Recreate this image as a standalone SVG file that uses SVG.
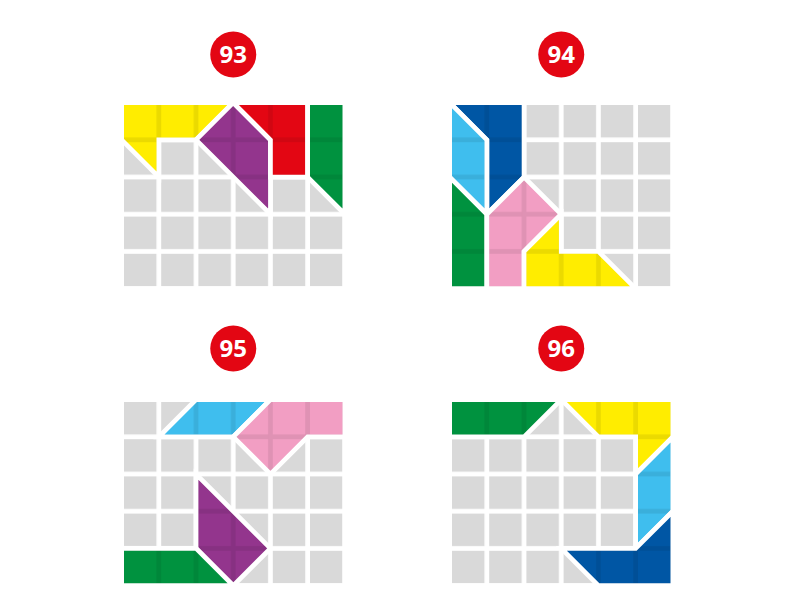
<svg xmlns="http://www.w3.org/2000/svg" width="794" height="614" viewBox="0 0 794 614">
<style>
.badge{fill:#e30613}
.num{fill:#ffffff;font-family:"Open Sans","Liberation Sans",Arial,sans-serif;font-weight:700;font-size:24px;text-anchor:middle}
.ov{fill:url(#gap);stroke:#ffffff;stroke-width:4.7;stroke-linejoin:miter}
.y{fill:#ffed00}.r{fill:#e30613}.pu{fill:#93358d}.g{fill:#00923f}
.lb{fill:#3fbeee}.db{fill:#0056a4}.pk{fill:#f29ec3}
</style>
<defs>
<pattern id="cells" x="0" y="0" width="37.2" height="37.2" patternUnits="userSpaceOnUse">
<rect x="0" y="0" width="32.5" height="32.5" fill="#d9d9d9"/>
</pattern>
<pattern id="gap" x="0" y="0" width="37.2" height="37.2" patternUnits="userSpaceOnUse">
<rect x="32.5" y="0" width="4.7" height="37.2" fill="#000000" fill-opacity="0.08"/>
<rect x="0" y="32.5" width="32.5" height="4.7" fill="#000000" fill-opacity="0.08"/>
</pattern>
<rect id="grid" x="0" y="0" width="218.5" height="181.3" fill="url(#cells)"/>
</defs>
<rect x="0" y="0" width="794" height="614" fill="#ffffff"/>

<g id="puzzle93">
<circle class="badge" cx="233.25" cy="54.5" r="23"/>
<text class="num" x="233.25" y="63">93</text>
<g transform="translate(124,105)">
<use href="#grid"/>
<polygon class="y" points="-2.35,-2.35 109.25,-2.35 72.05,34.85 34.85,34.85 34.85,72.05 -2.35,34.85"/>
<polygon class="ov" points="-2.35,-2.35 109.25,-2.35 72.05,34.85 34.85,34.85 34.85,72.05 -2.35,34.85"/>
<polygon class="pu" points="109.25,-2.35 146.45,34.85 146.45,109.25 72.05,34.85"/>
<polygon class="ov" points="109.25,-2.35 146.45,34.85 146.45,109.25 72.05,34.85"/>
<polygon class="r" points="109.25,-2.35 183.65,-2.35 183.65,72.05 146.45,72.05 146.45,34.85"/>
<polygon class="ov" points="109.25,-2.35 183.65,-2.35 183.65,72.05 146.45,72.05 146.45,34.85"/>
<polygon class="g" points="183.65,-2.35 220.85,-2.35 220.85,109.25 183.65,72.05"/>
<polygon class="ov" points="183.65,-2.35 220.85,-2.35 220.85,109.25 183.65,72.05"/>
</g>
</g>

<g id="puzzle94">
<circle class="badge" cx="561.25" cy="54.5" r="23"/>
<text class="num" x="561.25" y="63">94</text>
<g transform="translate(452,105)">
<use href="#grid"/>
<polygon class="db" points="-2.35,-2.35 72.05,-2.35 72.05,72.05 34.85,109.25 34.85,34.85"/>
<polygon class="ov" points="-2.35,-2.35 72.05,-2.35 72.05,72.05 34.85,109.25 34.85,34.85"/>
<polygon class="lb" points="-2.35,-2.35 34.85,34.85 34.85,109.25 -2.35,72.05"/>
<polygon class="ov" points="-2.35,-2.35 34.85,34.85 34.85,109.25 -2.35,72.05"/>
<polygon class="g" points="-2.35,72.05 34.85,109.25 34.85,183.65 -2.35,183.65"/>
<polygon class="ov" points="-2.35,72.05 34.85,109.25 34.85,183.65 -2.35,183.65"/>
<polygon class="pk" points="72.05,72.05 109.25,109.25 72.05,146.45 72.05,183.65 34.85,183.65 34.85,109.25"/>
<polygon class="ov" points="72.05,72.05 109.25,109.25 72.05,146.45 72.05,183.65 34.85,183.65 34.85,109.25"/>
<polygon class="y" points="72.05,146.45 109.25,109.25 109.25,146.45 146.45,146.45 183.65,183.65 72.05,183.65"/>
<polygon class="ov" points="72.05,146.45 109.25,109.25 109.25,146.45 146.45,146.45 183.65,183.65 72.05,183.65"/>
</g>
</g>

<g id="puzzle95">
<circle class="badge" cx="233.25" cy="348.5" r="23"/>
<text class="num" x="233.25" y="357">95</text>
<g transform="translate(124,402)">
<use href="#grid"/>
<polygon class="lb" points="72.05,-2.35 146.45,-2.35 109.25,34.85 34.85,34.85"/>
<polygon class="ov" points="72.05,-2.35 146.45,-2.35 109.25,34.85 34.85,34.85"/>
<polygon class="pk" points="146.45,-2.35 220.85,-2.35 220.85,34.85 183.65,34.85 146.45,72.05 109.25,34.85"/>
<polygon class="ov" points="146.45,-2.35 220.85,-2.35 220.85,34.85 183.65,34.85 146.45,72.05 109.25,34.85"/>
<polygon class="pu" points="72.05,72.05 146.45,146.45 109.25,183.65 72.05,146.45"/>
<polygon class="ov" points="72.05,72.05 146.45,146.45 109.25,183.65 72.05,146.45"/>
<polygon class="g" points="-2.35,146.45 72.05,146.45 109.25,183.65 -2.35,183.65"/>
<polygon class="ov" points="-2.35,146.45 72.05,146.45 109.25,183.65 -2.35,183.65"/>
</g>
</g>

<g id="puzzle96">
<circle class="badge" cx="561.25" cy="348.5" r="23"/>
<text class="num" x="561.25" y="357">96</text>
<g transform="translate(452,402)">
<use href="#grid"/>
<polygon class="g" points="-2.35,-2.35 109.25,-2.35 72.05,34.85 -2.35,34.85"/>
<polygon class="ov" points="-2.35,-2.35 109.25,-2.35 72.05,34.85 -2.35,34.85"/>
<polygon class="y" points="109.25,-2.35 220.85,-2.35 220.85,34.85 183.65,72.05 183.65,34.85 146.45,34.85"/>
<polygon class="ov" points="109.25,-2.35 220.85,-2.35 220.85,34.85 183.65,72.05 183.65,34.85 146.45,34.85"/>
<polygon class="lb" points="220.85,34.85 220.85,109.25 183.65,146.45 183.65,72.05"/>
<polygon class="ov" points="220.85,34.85 220.85,109.25 183.65,146.45 183.65,72.05"/>
<polygon class="db" points="220.85,109.25 220.85,183.65 146.45,183.65 109.25,146.45 183.65,146.45"/>
<polygon class="ov" points="220.85,109.25 220.85,183.65 146.45,183.65 109.25,146.45 183.65,146.45"/>
</g>
</g>
</svg>
